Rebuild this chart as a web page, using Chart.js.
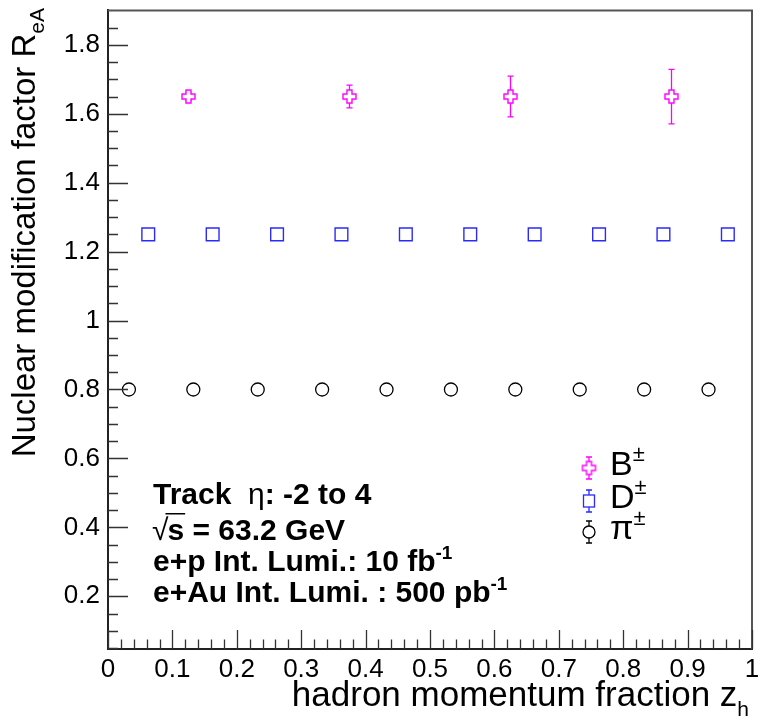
<!DOCTYPE html>
<html>
<head>
<meta charset="utf-8">
<script src="https://cdn.jsdelivr.net/npm/chart.js@4.4.1/dist/chart.umd.min.js"></script>
<style>
  html, body { margin: 0; padding: 0; background: #fff; }
  canvas { display: block; }
</style>
</head>
<body>
<canvas id="c" width="763" height="720"></canvas>
<script>
// ─── DATA ─────────────────────────────────────────────
const xTicks = [0, 0.1, 0.2, 0.3, 0.4, 0.5, 0.6, 0.7, 0.8, 0.9, 1];
const yTicks = [0.2, 0.4, 0.6, 0.8, 1, 1.2, 1.4, 1.6, 1.8];

const bX   = [0.125, 0.375, 0.625, 0.875];
const bY   = [1.65, 1.65, 1.65, 1.65];
const bErr = [0.012, 0.033, 0.059, 0.079];

const dX   = [0.0625, 0.1625, 0.2625, 0.3625, 0.4625, 0.5625, 0.6625, 0.7625, 0.8625, 0.9625];
const dY   = [1.25, 1.25, 1.25, 1.25, 1.25, 1.25, 1.25, 1.25, 1.25, 1.25];
const dErr = [0.004, 0.004, 0.004, 0.004, 0.004, 0.004, 0.004, 0.004, 0.004, 0.004];

const piX   = [0.0325, 0.1325, 0.2325, 0.3325, 0.4325, 0.5325, 0.6325, 0.7325, 0.8325, 0.9325];
const piY   = [0.8, 0.8, 0.8, 0.8, 0.8, 0.8, 0.8, 0.8, 0.8, 0.8];
const piErr = [0.003, 0.003, 0.003, 0.003, 0.003, 0.003, 0.003, 0.003, 0.003, 0.003];

const FONT = "'Liberation Sans', Arial, Helvetica, sans-serif";
const MAGENTA = '#ff00ff', BLUE = '#2a2aff', BLACK = '#000000';

// ─── MARKERS ──────────────────────────────────────────
// ROOT style open cross (marker 28), built as a small canvas
function makeCross(color) {
  const c = document.createElement('canvas');
  c.width = 17; c.height = 17;
  const g = c.getContext('2d');
  const o = 8.5, h = 6.5, a = 2.5;
  const pts = [[-a,-h],[a,-h],[a,-a],[h,-a],[h,a],[a,a],[a,h],[-a,h],[-a,a],[-h,a],[-h,-a],[-a,-a]];
  g.beginPath();
  pts.forEach(([x, y], i) => i ? g.lineTo(o + x, o + y) : g.moveTo(o + x, o + y));
  g.closePath();
  g.fillStyle = '#fff'; g.fill();
  g.strokeStyle = color; g.lineWidth = 1.4; g.stroke();
  return c;
}
const crossImg = makeCross(MAGENTA);

const pts = (xs, ys) => xs.map((x, i) => ({ x, y: ys[i] }));

// ─── TEXT HELPER ──────────────────────────────────────
// parts: [{t, size, bold, dy}] drawn left to right
function richWidth(ctx, parts) {
  let w = 0;
  parts.forEach(p => { ctx.font = `${p.bold ? 'bold ' : ''}${p.size}px ${FONT}`; w += ctx.measureText(p.t).width; });
  return w;
}
function drawRich(ctx, parts, x, y, align) {
  if (align === 'right') x -= richWidth(ctx, parts);
  ctx.textAlign = 'left';
  ctx.textBaseline = 'alphabetic';
  parts.forEach(p => {
    ctx.font = `${p.bold ? 'bold ' : ''}${p.size}px ${FONT}`;
    ctx.fillText(p.t, x, y + (p.dy || 0));
    x += ctx.measureText(p.t).width;
  });
  return x;
}

// ─── PLUGINS ──────────────────────────────────────────
const errorBars = {
  id: 'errorBars',
  beforeDatasetsDraw(chart) {
    const { ctx, scales: { x, y } } = chart;
    ctx.save();
    chart.data.datasets.forEach(ds => {
      ctx.strokeStyle = ds.borderColor;
      ctx.lineWidth = 1.3;
      ds.data.forEach((p, i) => {
        const px = x.getPixelForValue(p.x);
        const y1 = y.getPixelForValue(p.y + ds.err[i]);
        const y2 = y.getPixelForValue(p.y - ds.err[i]);
        ctx.beginPath();
        ctx.moveTo(px, y1); ctx.lineTo(px, y2);
        ctx.moveTo(px - 3, y1); ctx.lineTo(px + 3, y1);
        ctx.moveTo(px - 3, y2); ctx.lineTo(px + 3, y2);
        ctx.stroke();
      });
    });
    ctx.restore();
  }
};

const frameAndTicks = {
  id: 'frameAndTicks',
  afterDraw(chart) {
    const { ctx, chartArea: a, scales: { x, y } } = chart;
    ctx.save();
    // top / right frame
    ctx.strokeStyle = '#555';
    ctx.lineWidth = 2;
    ctx.beginPath();
    ctx.moveTo(a.left, a.top); ctx.lineTo(a.right, a.top); ctx.lineTo(a.right, a.bottom);
    ctx.stroke();
    // inward ticks, ROOT style
    ctx.strokeStyle = '#333';
    ctx.lineWidth = 1.3;
    ctx.beginPath();
    for (let v = 0; v <= 1.0001; v += 0.02) {
      const px = Math.round(x.getPixelForValue(v)) + 0.5;
      const major = Math.abs(v * 10 - Math.round(v * 10)) < 1e-6;
      ctx.moveTo(px, a.bottom); ctx.lineTo(px, a.bottom - (major ? 19 : 9.5));
    }
    for (let v = 0.05; v <= 1.9; v += 0.05) {
      const py = Math.round(y.getPixelForValue(v)) + 0.5;
      const major = Math.abs(v * 5 - Math.round(v * 5)) < 1e-6;
      ctx.moveTo(a.left, py); ctx.lineTo(a.left + (major ? 20 : 10), py);
    }
    ctx.stroke();
    ctx.restore();
  }
};

const annotations = {
  id: 'annotations',
  afterDraw(chart) {
    const { ctx } = chart;
    ctx.save();
    ctx.fillStyle = '#000';

    // axis titles
    drawRich(ctx, [{ t: 'hadron momentum fraction z', size: 35 }, { t: 'h', size: 21, dy: 10 }], 749, 706, 'right');
    ctx.save();
    ctx.translate(35, 8);
    ctx.rotate(-Math.PI / 2);
    drawRich(ctx, [{ t: 'Nuclear modification factor R', size: 33 }, { t: 'eA', size: 21, dy: 9 }], 0, 0, 'right');
    ctx.restore();

    // info box
    const S = 30;
    drawRich(ctx, [{ t: 'Track  ', size: S, bold: true }, { t: 'η', size: S }, { t: ': -2 to 4', size: S, bold: true }], 153, 504);
    ctx.font = `${S}px ${FONT}`;
    ctx.fillText('√', 152, 540);
    const sx = 152 + ctx.measureText('√').width - 1;
    drawRich(ctx, [{ t: 's = 63.2 GeV', size: S, bold: true }], sx, 540);
    ctx.font = `bold ${S}px ${FONT}`;
    ctx.fillRect(sx - 2, 513, ctx.measureText('s').width + 3, 1.5);
    drawRich(ctx, [{ t: 'e+p Int. Lumi.: 10 fb', size: S, bold: true }, { t: '-1', size: 19, bold: true, dy: -12 }], 153, 571);
    drawRich(ctx, [{ t: 'e+Au Int. Lumi. : 500 pb', size: S, bold: true }, { t: '-1', size: 19, bold: true, dy: -12 }], 153, 602);

    // legend
    const legend = [
      { name: 'B',  color: MAGENTA, style: 'cross',  y: 468 },
      { name: 'D',  color: BLUE,    style: 'rect',   y: 501 },
      { name: 'π',  color: BLACK,   style: 'circle', y: 532 },
    ];
    legend.forEach(e => {
      const mx = 589;
      ctx.strokeStyle = e.color; ctx.lineWidth = 1.3;
      ctx.beginPath();
      ctx.moveTo(mx, e.y - 11); ctx.lineTo(mx, e.y + 11);
      ctx.moveTo(mx - 3, e.y - 11); ctx.lineTo(mx + 3, e.y - 11);
      ctx.moveTo(mx - 3, e.y + 11); ctx.lineTo(mx + 3, e.y + 11);
      ctx.stroke();
      ctx.fillStyle = '#fff';
      if (e.style === 'cross') {
        ctx.drawImage(crossImg, mx - 8.5, e.y - 8.5);
      } else if (e.style === 'rect') {
        ctx.fillRect(mx - 5.5, e.y - 6, 11, 12);
        ctx.strokeRect(mx - 5.5, e.y - 6, 11, 12);
      } else {
        ctx.beginPath(); ctx.arc(mx, e.y, 6, 0, Math.PI * 2); ctx.fill(); ctx.stroke();
      }
      ctx.fillStyle = '#000';
      drawRich(ctx, [{ t: e.name, size: 34 }, { t: '±', size: 22, dy: -14 }], 610, e.y + 7);
    });
    ctx.restore();
  }
};

// ─── CHART ────────────────────────────────────────────
new Chart(document.getElementById('c'), {
  type: 'scatter',
  data: {
    datasets: [
      { label: 'B±', data: pts(bX, bY), err: bErr, borderColor: MAGENTA, backgroundColor: '#fff',
        pointStyle: crossImg, pointRadius: 7 },
      { label: 'D±', data: pts(dX, dY), err: dErr, borderColor: BLUE, backgroundColor: '#fff',
        pointStyle: 'rect', pointRadius: 9, borderWidth: 1.4 },
      { label: 'π±', data: pts(piX, piY), err: piErr, borderColor: BLACK, backgroundColor: '#fff',
        pointStyle: 'circle', pointRadius: 6.5, borderWidth: 1.3 },
    ],
  },
  options: {
    responsive: false,
    animation: false,
    layout: { padding: { top: 2, right: 11, left: 0, bottom: 0 } },
    plugins: { legend: { display: false }, tooltip: { enabled: false } },
    scales: {
      x: {
        type: 'linear', min: 0, max: 1,
        afterBuildTicks: s => { s.ticks = xTicks.map(value => ({ value })); },
        afterFit: s => { s.height = 71; s.paddingLeft = 0; s.paddingRight = 0; },
        ticks: { color: '#000', font: { family: FONT, size: 26 }, padding: 5, maxRotation: 0,
                 callback: v => String(+v.toFixed(1)) },
        grid: { display: false, drawTicks: false },
        border: { display: true, color: '#222', width: 2 },
      },
      y: {
        type: 'linear', min: 0.047, max: 1.9,
        afterBuildTicks: s => { s.ticks = yTicks.map(value => ({ value })); },
        afterFit: s => { s.width = 108; s.paddingTop = 0; s.paddingBottom = 0; },
        ticks: { color: '#000', font: { family: FONT, size: 26 }, padding: 8,
                 callback: v => String(+v.toFixed(1)) },
        grid: { display: false, drawTicks: false },
        border: { display: true, color: '#222', width: 2 },
      },
    },
  },
  plugins: [errorBars, frameAndTicks, annotations],
});
</script>
</body>
</html>
